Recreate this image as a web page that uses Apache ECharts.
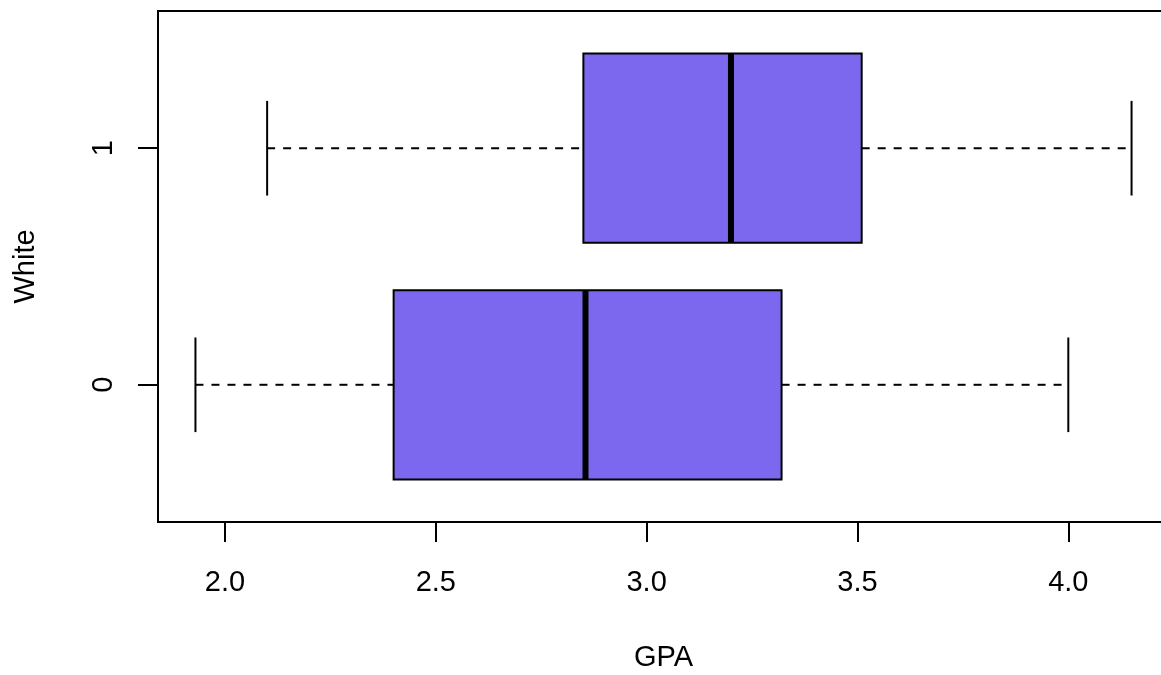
<!DOCTYPE html>
<html>
<head>
<meta charset="utf-8">
<title>GPA by White</title>
<script src="https://cdn.jsdelivr.net/npm/echarts@6/dist/echarts.min.js"></script>
<style>
  html, body { margin: 0; padding: 0; background: #ffffff; overflow: hidden; }
  #chart { width: 1161px; height: 675px; }
</style>
</head>
<body>
<div id="chart"></div>
<script>
// Group labels (White = 0 / 1) and five-number summaries of GPA
const groups = ['0', '1'];
const whiskerLow = [1.93, 2.10];
const q1 = [2.40, 2.85];
const median = [2.855, 3.20];
const q3 = [3.32, 3.51];
const whiskerHigh = [4.00, 4.15];

// Axis tick values
const gpaTicks = [2.0, 2.5, 3.0, 3.5, 4.0];
const groupPositions = [1, 2];

// Axis ranges (data range padded by 4% on each side)
const xMin = 1.8412, xMax = 4.2388;
const yMin = 0.42, yMax = 2.58;

const BOX_HALF = 0.4;    // half box height in group units
const CAP_HALF = 0.2;    // half whisker-cap length in group units
const FILL = '#7B68EE';
const FONT = '"Liberation Sans", Arial, sans-serif';

const boxData = groups.map((g, i) => [
  groupPositions[i], whiskerLow[i], q1[i], median[i], q3[i], whiskerHigh[i]
]);

function renderBox(params, api) {
  const pos = api.value(0);
  const lo = api.value(1), a = api.value(2), m = api.value(3), b = api.value(4), hi = api.value(5);
  const pLoTop = api.coord([lo, pos + CAP_HALF]);
  const pLoBot = api.coord([lo, pos - CAP_HALF]);
  const pHiTop = api.coord([hi, pos + CAP_HALF]);
  const pHiBot = api.coord([hi, pos - CAP_HALF]);
  const boxTL = api.coord([a, pos + BOX_HALF]);
  const boxBR = api.coord([b, pos - BOX_HALF]);
  const mTop = api.coord([m, pos + BOX_HALF]);
  const mBot = api.coord([m, pos - BOX_HALF]);
  const cLo = api.coord([lo, pos]);
  const cA = api.coord([a, pos]);
  const cB = api.coord([b, pos]);
  const cHi = api.coord([hi, pos]);
  const dashed = { stroke: '#000', lineWidth: 2, lineDash: [8, 8] };
  const solid = { stroke: '#000', lineWidth: 2 };
  return {
    type: 'group',
    children: [
      { type: 'line', shape: { x1: cLo[0], y1: cLo[1], x2: cA[0], y2: cA[1] }, style: dashed },
      { type: 'line', shape: { x1: cB[0], y1: cB[1], x2: cHi[0], y2: cHi[1] }, style: dashed },
      { type: 'line', shape: { x1: pLoTop[0], y1: pLoTop[1], x2: pLoBot[0], y2: pLoBot[1] }, style: solid },
      { type: 'line', shape: { x1: pHiTop[0], y1: pHiTop[1], x2: pHiBot[0], y2: pHiBot[1] }, style: solid },
      {
        type: 'rect',
        shape: { x: boxTL[0], y: boxTL[1], width: boxBR[0] - boxTL[0], height: boxBR[1] - boxTL[1] },
        style: { fill: FILL, stroke: '#000', lineWidth: 2 }
      },
      { type: 'line', shape: { x1: mTop[0], y1: mTop[1], x2: mBot[0], y2: mBot[1] }, style: { stroke: '#000', lineWidth: 6 } }
    ]
  };
}

const chart = echarts.init(document.getElementById('chart'), null, { renderer: 'canvas' });
chart.setOption({
  animation: false,
  backgroundColor: '#ffffff',
  grid: {
    // plot frame runs past the right edge of the canvas
    left: 158, top: 11, width: 1011, height: 511,
    outerBoundsMode: 'none',
    containLabel: false,
    show: true, borderColor: '#000', borderWidth: 2, backgroundColor: 'transparent'
  },
  xAxis: {
    type: 'value',
    min: xMin, max: xMax,
    name: 'GPA',
    nameLocation: 'middle',
    nameGap: 121,
    nameTextStyle: { fontFamily: FONT, fontSize: 29, color: '#000' },
    axisLine: { show: false },
    splitLine: { show: false },
    axisTick: { show: true, length: 20, customValues: gpaTicks, lineStyle: { color: '#000', width: 2 } },
    axisLabel: {
      customValues: gpaTicks,
      margin: 46,
      verticalAlign: 'top',
      fontFamily: FONT, fontSize: 29, color: '#000',
      formatter: v => Number(v).toFixed(1)
    }
  },
  yAxis: {
    type: 'value',
    min: yMin, max: yMax,
    name: 'White',
    nameLocation: 'middle',
    nameRotate: 90,
    nameGap: 118,
    nameTextStyle: { fontFamily: FONT, fontSize: 29, color: '#000' },
    axisLine: { show: false },
    splitLine: { show: false },
    axisTick: { show: true, length: 20, customValues: groupPositions, lineStyle: { color: '#000', width: 2 } },
    axisLabel: {
      customValues: groupPositions,
      rotate: 90,
      margin: 40,
      align: 'center',
      verticalAlign: 'bottom',
      fontFamily: FONT, fontSize: 29, color: '#000',
      formatter: v => groups[groupPositions.indexOf(Math.round(v))] ?? ''
    }
  },
  series: [{
    type: 'custom',
    renderItem: renderBox,
    encode: { x: [1, 2, 3, 4, 5], y: 0 },
    data: boxData,
    clip: false
  }]
});
</script>
</body>
</html>
